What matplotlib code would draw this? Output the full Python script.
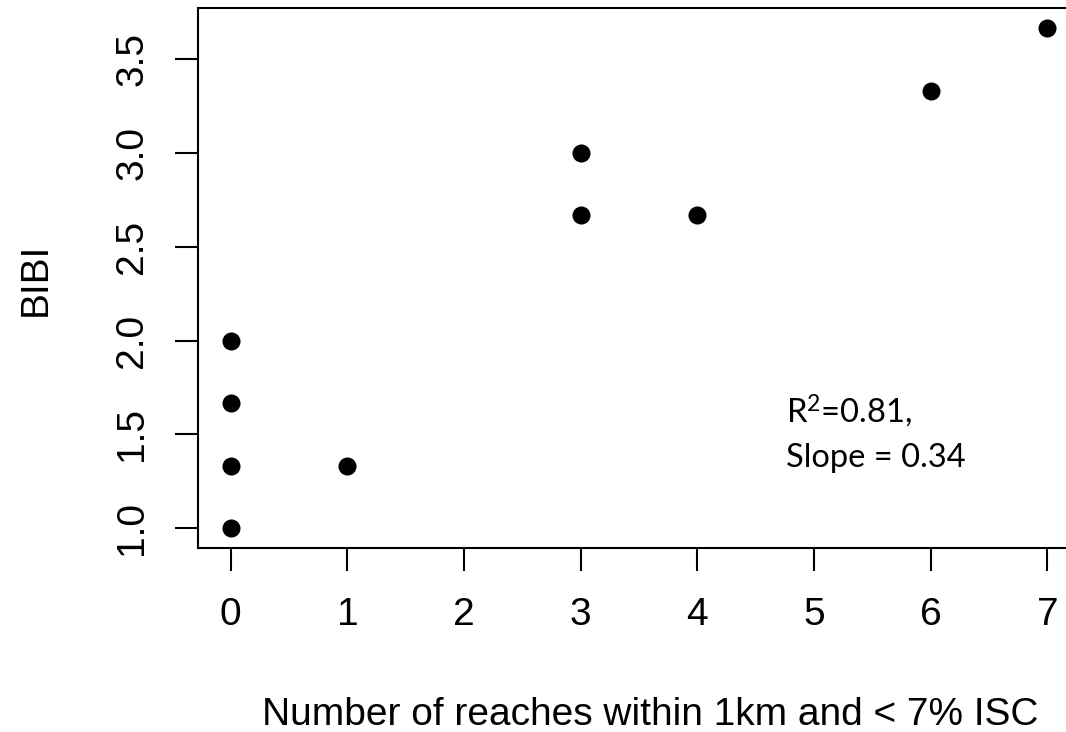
# BIBI vs number of low-ISC reaches, R base-graphics look
import matplotlib
matplotlib.use('Agg')
import matplotlib.pyplot as plt

plt.rcParams['mathtext.fontset'] = 'custom'
plt.rcParams['mathtext.rm'] = 'Lato'
plt.rcParams['mathtext.default'] = 'regular'

reaches = [0, 0, 0, 0, 1, 3, 3, 4, 6, 7]
bibi = [1.0, 1.333, 1.667, 2.0, 1.333, 2.667, 3.0, 2.667, 3.333, 3.667]
xticks = [0, 1, 2, 3, 4, 5, 6, 7]
yticks = [1.0, 1.5, 2.0, 2.5, 3.0, 3.5]

fig = plt.figure(figsize=(10.66, 7.32), dpi=100)
W, H = 1066, 732
ax = fig.add_axes([198/W, 1-548/H, 882/W, 540/H])

ax.plot(reaches, bibi, 'o', color='black', markersize=13, markeredgewidth=0)

# R's default 4% padding
xr = max(reaches) - min(reaches)
yr = max(bibi) - min(bibi)
ax.set_xlim(min(reaches) - 0.04*xr, max(reaches) + 0.04*xr)
ax.set_ylim(min(bibi) - 0.04*yr, max(bibi) + 0.04*yr)

ax.set_xticks(xticks)
ax.set_xticklabels([str(t) for t in xticks])
ax.set_yticks(yticks)
ax.set_yticklabels(['{:.1f}'.format(t) for t in yticks], rotation=90, va='center')

for s in ax.spines.values():
    s.set_linewidth(1.5)
ax.tick_params(direction='out', length=16.5, width=1.5, labelsize=28)
ax.tick_params(axis='x', pad=19)
ax.tick_params(axis='y', pad=18)
for lab in ax.get_xticklabels() + ax.get_yticklabels():
    lab.set_family('Liberation Sans')

fig.text(650/W, 1-725/H, 'Number of reaches within 1km and < 7% ISC',
         ha='center', va='baseline', fontsize=28, family='Liberation Sans')
fig.text(36/W, 1-279/H, 'BIBI', ha='center', va='center', rotation=90,
         fontsize=28, family='Liberation Sans')

fig.text(786/W, 1-423/H, 'R$^2$=0.81,', ha='left', va='baseline',
         fontsize=23.5, family='Lato')
fig.text(786/W, 1-467/H, 'Slope = 0.34', ha='left', va='baseline',
         fontsize=23.5, family='Lato')

fig.savefig('out.png', dpi=100)
